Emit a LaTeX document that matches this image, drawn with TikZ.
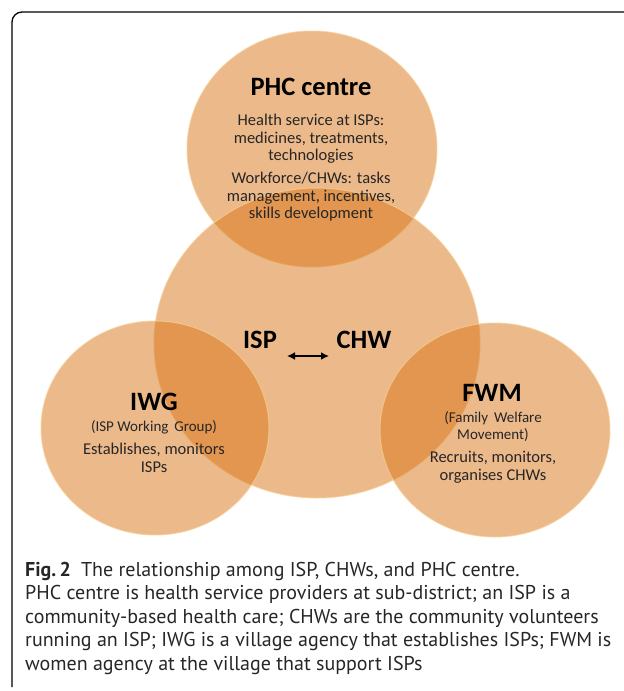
\documentclass[tikz,border=0pt]{standalone}
\usepackage{fontspec}
\setmainfont{Carlito}
\newfontfamily\capfont{PT Sans}
\usetikzlibrary{positioning,arrows.meta,shapes.geometric}
\definecolor{peach}{RGB}{217,115,21}
\definecolor{rim}{RGB}{246,208,150}

\begin{document}
\begin{tikzpicture}[x=1pt,y=-1pt,
	circ/.style={ellipse,fill=peach,fill opacity=0.5,draw=rim,draw opacity=0.7,line width=1pt,inner sep=0pt},
	head/.style={font=\fontsize{26.5}{30}\selectfont\bfseries,inner sep=0pt},
	txt/.style={font=\fontsize{16.5}{17.5}\selectfont,align=center,inner sep=0pt,text=black!85},
	paren/.style={font=\fontsize{15}{17}\selectfont,align=center,inner sep=0pt,text=black!85},
	captext/.style={font=\capfont\fontsize{20}{23.5}\selectfont,align=left,anchor=north west,inner sep=0pt,text=black!85}]

	\useasboundingbox (0,0) rectangle (624,691);

	% frame, open at the right
	\draw[line width=1.3pt,rounded corners=10pt] (624,12) -- (12,12) -- (12,687);

	% circles
	\node[circ,minimum width=250pt,minimum height=236pt] (phc) at (312,149) {};
	\node[circ,minimum width=326pt,minimum height=310pt] (isp) at (317,343) {};
	\node[circ,minimum width=228pt,minimum height=214pt] (iwg) at (155,428) {};
	\node[circ,minimum width=230pt,minimum height=214pt] (fwm) at (495,430) {};

	% PHC centre
	\node[head] (phct) at (311,87) {PHC centre};
	\node[txt] (phcs) at (311,139) {Health service at ISPs:\\medicines, treatments,\\technologies};
	\node[txt,below=8pt of phcs] (phcw) {Workforce/CHWs: tasks\\management, incentives,\\skills development};

	% ISP and CHW
	\node[head] (ispt) at (260,340) {ISP};
	\node[head] (chwt) at (364,340) {CHW};
	\coordinate (al) at (287,356);
	\coordinate (ar) at (329,356);
	\draw[{Latex[length=8pt,width=8pt]}-{Latex[length=8pt,width=8pt]},line width=2.2pt] (al) -- (ar);

	% IWG
	\node[head] (iwgt) at (154,402) {IWG};
	\node[paren] (iwgs) at (154,427) {(ISP Working\, Group)};
	\node[txt,below=9pt of iwgs] (iwgd) {Establishes, monitors\\ISPs};

	% FWM
	\node[head] (fwmt) at (492,393) {FWM};
	\node[paren] (fwms) at (493,427) {(Family\, Welfare\\Movement)};
	\node[txt,below=9pt of fwms] (fwmd) {Recruits, monitors,\\organises CHWs};

	% caption
	\node[captext] (caption) at (25,562) {\textbf{Fig.\,2}\enspace The relationship among ISP, CHWs, and PHC centre.\\
		PHC centre is health service providers at sub-district; an ISP is a\\
		community-based health care; CHWs are the community volunteers\\
		running an ISP; IWG is a village agency that establishes ISPs; FWM is\\
		women agency at the village that support ISPs};
\end{tikzpicture}
\end{document}
